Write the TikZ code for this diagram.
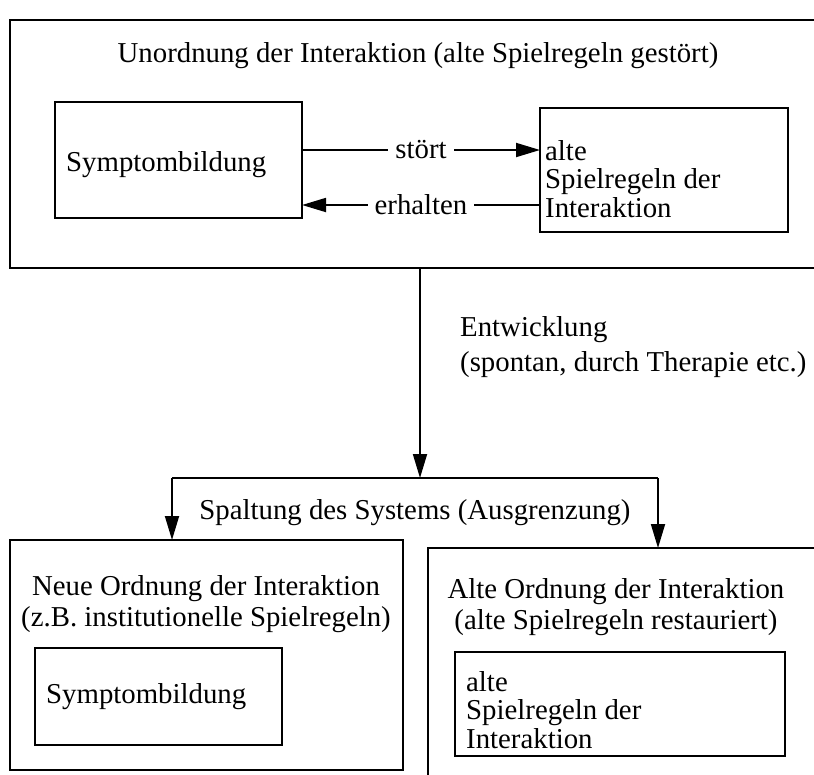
\documentclass[tikz,border=0pt]{standalone}
\usepackage{fontspec}
\setmainfont{Liberation Serif}
\usetikzlibrary{arrows.meta}
\begin{document}
\begin{tikzpicture}[x=1pt,y=-1pt,
  frame/.style={draw,line width=2pt},
  txt/.style={inner sep=0pt,font=\fontsize{28.8}{28.5}\selectfont},
  arr/.style={line width=1.8pt,-{Triangle[length=24pt,width=14pt]}},
  lbl/.style={txt,fill=white,inner xsep=7pt,inner ysep=2pt}]
\useasboundingbox (0,0) rectangle (814,774);
\begin{scope}
\clip (0,0) rectangle (814,774);
% upper frame: disturbed order
\draw[frame] (10,20) rectangle (840,268);
\node[txt] (title) at (418,56) {Unordnung der Interaktion (alte Spielregeln gestört)};
\node[frame,minimum width=247pt,minimum height=116pt] (sym1) at (178.5,160) {};
\node[txt,anchor=west] at (66,165) {Symptombildung};
\node[frame,minimum width=248pt,minimum height=124pt] (reg1) at (664,170) {};
\node[txt,anchor=west,align=left] at (545,179) {alte\\Spielregeln der\\Interaktion};
\coordinate (s1a) at (302,150); \coordinate (r1a) at (540,150);
\coordinate (s1b) at (302,205); \coordinate (r1b) at (540,205);
\draw[arr] (s1a) -- node[lbl] {stört} (r1a);
\draw[arr] (r1b) -- node[lbl] {erhalten} (s1b);
% development
\coordinate (dev0) at (420,268);
\coordinate (dev1) at (420,478);
\draw[arr] (dev0) -- (dev1);
\node[txt,anchor=west,align=left] (dev) at (460,347) {Entwicklung\\[6pt](spontan, durch Therapie etc.)};
% split of the system
\coordinate (spl) at (172,478); \coordinate (spr) at (658,478);
\draw[frame] (spl) -- (spr);
\node[txt] (split) at (415,513) {Spaltung des Systems (Ausgrenzung)};
\coordinate (newtop) at (172,540);
\coordinate (oldtop) at (658,548);
\draw[arr] (spl) -- (newtop);
\draw[arr] (spr) -- (oldtop);
% new order
\draw[frame] (10,540) rectangle (403,770);
\node[txt,align=center] (neu) at (206,604) {Neue Ordnung der Interaktion\\[3pt](z.B. institutionelle Spielregeln)};
\node[frame,minimum width=247pt,minimum height=97pt] (sym2) at (158.5,696.5) {};
\node[txt,anchor=west] at (46,697) {Symptombildung};
% old order
\draw[frame] (428,800) -- (428,548) -- (840,548);
\node[txt,align=center] (alt) at (616,607) {Alte Ordnung der Interaktion\\[3pt](alte Spielregeln restauriert)};
\node[frame,minimum width=330pt,minimum height=104pt] (reg2) at (620,704) {};
\node[txt,anchor=west,align=left] at (466,710) {alte\\Spielregeln der\\Interaktion};
\end{scope}
\end{tikzpicture}
\end{document}
